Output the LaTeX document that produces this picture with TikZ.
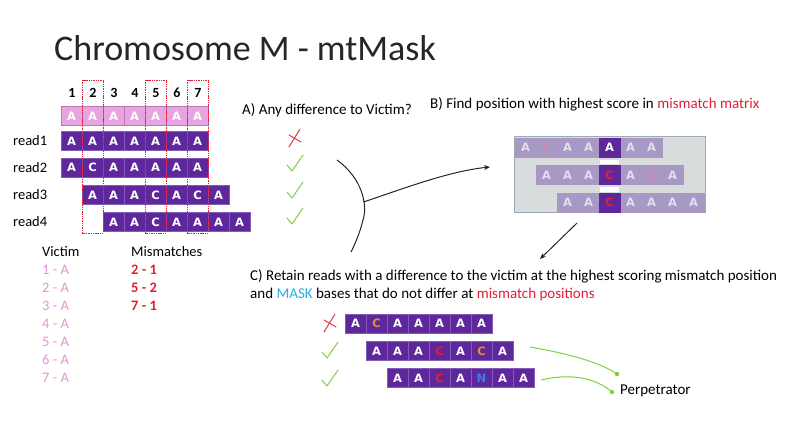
\documentclass[tikz,border=0pt]{standalone}
\usepackage{fontspec}
\setmainfont{Carlito}
\newfontfamily\cellfont{DejaVu Sans}
\usetikzlibrary{arrows.meta}
\definecolor{rdp}{RGB}{94,40,156}
\definecolor{rdpline}{RGB}{130,90,185}
\definecolor{vpink}{RGB}{230,165,224}
\definecolor{vpinkd}{RGB}{190,120,185}
\definecolor{vtext}{RGB}{226,150,214}
\definecolor{mmred}{RGB}{228,30,50}
\definecolor{chkgreen}{RGB}{130,205,80}
\definecolor{xred}{RGB}{225,60,70}
\definecolor{fade}{RGB}{168,152,196}
\definecolor{fadetxt}{RGB}{228,222,238}
\definecolor{fadered}{RGB}{205,140,170}
\definecolor{boxgrey}{RGB}{216,220,221}
\definecolor{boxline}{RGB}{160,170,182}
\definecolor{orng}{RGB}{232,140,50}
\definecolor{maskblue}{RGB}{40,175,225}
\definecolor{nblue}{RGB}{50,130,235}
\definecolor{lgreen}{RGB}{125,210,60}
\newcommand\seqrow[5]{%
  \foreach \l/\c [count=\i] in {#5}
    \node[#4,text=\c] (#1-\i) at ({#2+10.5+21*(\i-1)},#3) {\l};}
\newcommand\chkmark[2]{\draw[chk] (#1-7,#2+1) -- (#1-2,#2+7) -- (#1+9,#2-9);}
\newcommand\xmark[2]{\draw[xmk] (#1+6,#2-9) -- (#1-5,#2+9); \draw[xmk] (#1-5,#2-3) -- (#1+7,#2+4);}
\begin{document}
\begin{tikzpicture}[x=1pt,y=-1pt,
  cellbase/.style={rectangle,minimum width=21pt,minimum height=19pt,inner sep=0pt,
     font=\cellfont\bfseries\fontsize{11.5}{11.5}\selectfont},
  cell/.style={cellbase,fill=rdp,draw=rdpline,line width=0.3pt},
  vcell/.style={cellbase,fill=vpink,draw=vpinkd,line width=0.4pt},
  fcell/.style={cellbase,fill=fade,draw=fade},
  hcell/.style={cellbase,fill=rdp,draw=rdp},
  lbl/.style={anchor=west,inner sep=0pt,font=\fontsize{15}{17}\selectfont},
  small/.style={anchor=west,inner sep=0pt,font=\fontsize{14.5}{16}\selectfont},
  colnum/.style={inner sep=0pt,font=\bfseries\fontsize{14}{15}\selectfont},
  mmbox/.style={draw=mmred,line width=0.9pt,dash pattern=on 1.4pt off 0.9pt},
  chk/.style={draw=chkgreen,line width=1pt,line cap=round,line join=round},
  xmk/.style={draw=xred,line width=1pt,line cap=round},
  hand/.style={draw=black!85,line width=1pt},
  gline/.style={draw=lgreen,line width=1pt}]
\useasboundingbox (0,0) rectangle (786,432);
\fill[white] (0,0) rectangle (786,432);

% title
\node[anchor=west,inner sep=0pt,font=\fontsize{36}{38}\selectfont,text=black!85] (title) at (54,48) {Chromosome M - mtMask};

% column numbers
\foreach \n [count=\i] in {1,...,7}
  \node[colnum] (num-\i) at ({72+21*(\i-1)},93) {\n};

% victim row and reads
\seqrow{vic}{61}{116}{vcell}{A/white,A/white,A/white,A/white,A/white,A/white,A/white}
\seqrow{ra}{61}{141}{cell}{A/white,A/white,A/white,A/white,A/white,A/white,A/white}
\seqrow{rb}{61}{167.5}{cell}{A/white,C/white,A/white,A/white,A/white,A/white,A/white}
\seqrow{rc}{82}{195}{cell}{A/white,A/white,A/white,C/white,A/white,C/white,A/white}
\seqrow{rd}{103}{222}{cell}{A/white,A/white,C/white,A/white,A/white,A/white,A/white}

\node[small] (read1) at (13,141) {read1};
\node[small] (read2) at (13,167.5) {read2};
\node[small] (read3) at (13,195) {read3};
\node[small] (read4) at (13,222) {read4};

% mismatch columns
\draw[mmbox] (82.5,80) rectangle (103.5,233);
\draw[mmbox] (145.5,80) rectangle (166.5,233);
\draw[mmbox] (187.5,80) rectangle (208.5,233);

% victim / mismatches lists
\node[small] (victim) at (42,252) {Victim};
\foreach \n [count=\i] in {1,...,7}
  \node[small,text=vtext] (v-\i) at (42,{270+18*(\i-1)}) {\n\ -\ A};
\node[small] (mism) at (131,252) {Mismatches};
\node[small,text=mmred,font=\bfseries\fontsize{14.5}{16}\selectfont] (m-1) at (131,270) {2 - 1};
\node[small,text=mmred,font=\bfseries\fontsize{14.5}{16}\selectfont] (m-2) at (131,288) {5 - 2};
\node[small,text=mmred,font=\bfseries\fontsize{14.5}{16}\selectfont] (m-3) at (131,306) {7 - 1};

% A)
\node[lbl] (texta) at (242,110) {A) Any difference to Victim?};
\xmark{294}{138}
\chkmark{294}{164}
\chkmark{294}{191}
\chkmark{294}{217}
\draw[hand] (337,160) .. controls (362,178) and (368,205) .. (363,220) .. controls (360,232) and (356,242) .. (351,252);
\coordinate (arcmid) at (363.5,202);
\coordinate (btarget) at (490,167);
\draw[hand,-{Stealth[open,length=6pt,width=5pt]}] (arcmid) .. controls (405,188) and (450,171) .. (btarget);

% B)
\node[lbl] (textb) at (430,104) {B) Find position with highest score in \textcolor{mmred}{mismatch matrix}};
\node[draw=boxline,fill=boxgrey,line width=0.6pt,minimum width=191pt,minimum height=76pt,inner sep=0pt] (mbox) at (609.5,174.5) {};
\seqrow{ba}{515}{147.5}{fcell}{A/fadetxt,C/fadered,A/fadetxt,A/fadetxt,A/white,A/fadetxt,A/fadetxt}
\seqrow{bb}{536}{175}{fcell}{A/fadetxt,A/fadetxt,A/fadetxt,C/mmred,A/fadetxt,C/fadered,A/fadetxt}
\seqrow{bc}{557}{202.5}{fcell}{A/fadetxt,A/fadetxt,C/mmred,A/fadetxt,A/fadetxt,A/fadetxt,A/fadetxt}
\node[hcell,text=white] (ba-5h) at (ba-5) {A};
\node[hcell,text=mmred] (bb-4h) at (bb-4) {C};
\node[hcell,text=mmred] (bc-3h) at (bc-3) {C};
\fill[white] (600,159.5) rectangle (619,164);
\fill[white] (600,187) rectangle (619,191.5);

% arrow to C
\coordinate (cfrom) at (577,223);
\coordinate (cto) at (540,259);
\draw[hand,-{Stealth[length=6pt,width=5pt]}] (cfrom) -- (cto);

% C)
\node[lbl] (textc1) at (250,276) {C) Retain reads with a difference to the victim at the highest scoring mismatch position};
\node[lbl] (textc2) at (250,294) {and \textcolor{maskblue}{MASK} bases that do not differ at \textcolor{mmred}{mismatch positions}};

\xmark{329}{323}
\chkmark{329}{351}
\chkmark{329}{379}
\seqrow{ca}{345}{323.5}{cell}{A/white,C/orng,A/white,A/white,A/white,A/white,A/white}
\seqrow{cb}{366}{351}{cell}{A/white,A/white,A/white,C/mmred,A/white,C/orng,A/white}
\seqrow{cc}{387}{378}{cell}{A/white,A/white,C/mmred,A/white,N/nblue,A/white,A/white}

\node[lbl] (perp) at (620,391) {Perpetrator};
\coordinate (g1) at (617,374);
\coordinate (g2) at (612,392);
\draw[gline] (530,347) .. controls (565,353) and (600,362) .. (g1);
\draw[gline] (541,380) .. controls (575,372) and (598,380) .. (g2);
\fill[lgreen] (g1) circle (2.2);
\fill[lgreen] (g2) circle (2.2);
\end{tikzpicture}
\end{document}
